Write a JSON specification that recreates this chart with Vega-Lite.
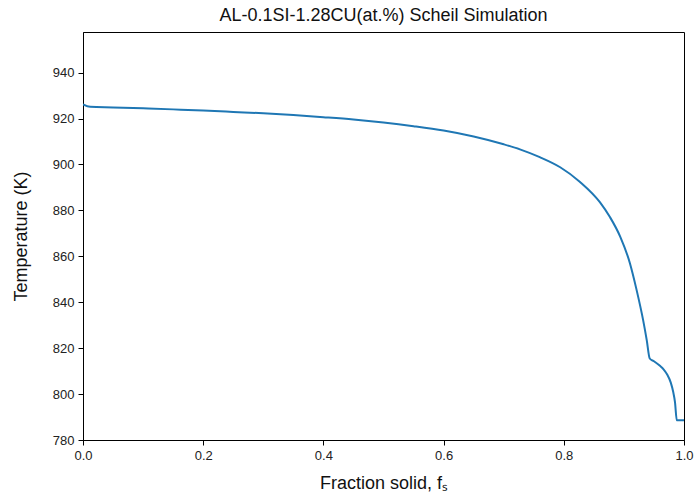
{
  "$schema": "https://vega.github.io/schema/vega-lite/v6.json",
  "autosize": "none",
  "padding": {"left": 83, "top": 32, "right": 11, "bottom": 55},
  "width": 601,
  "height": 408,
  "background": "white",
  "title": {"text": "AL-0.1SI-1.28CU(at.%) Scheil Simulation", "font": "Liberation Sans", "fontSize": 18, "fontWeight": "normal", "color": "#111", "offset": 7},
  "config": {"view": {"stroke": "black", "strokeWidth": 1}, "axis": {"grid": false, "domainColor": "black", "tickColor": "black", "labelFont": "Liberation Sans", "labelFontSize": 13, "labelColor": "#222", "titleFont": "Liberation Sans", "titleFontSize": 18, "titleFontWeight": "normal", "titleColor": "#111", "tickSize": 5, "labelFlush": false}},
  "data": {"values": [
    {"fs": 0.0, "T": 926.2},
    {"fs": 0.012, "T": 925.1},
    {"fs": 0.05, "T": 924.85},
    {"fs": 0.1, "T": 924.45},
    {"fs": 0.15, "T": 924.0},
    {"fs": 0.2, "T": 923.5},
    {"fs": 0.25, "T": 922.9},
    {"fs": 0.3, "T": 922.3},
    {"fs": 0.35, "T": 921.5},
    {"fs": 0.4, "T": 920.6},
    {"fs": 0.45, "T": 919.6},
    {"fs": 0.5, "T": 918.3},
    {"fs": 0.55, "T": 916.7},
    {"fs": 0.6, "T": 914.8},
    {"fs": 0.65, "T": 912.2},
    {"fs": 0.7, "T": 908.8},
    {"fs": 0.727, "T": 906.6},
    {"fs": 0.76, "T": 903.2},
    {"fs": 0.794, "T": 898.8},
    {"fs": 0.827, "T": 892.4},
    {"fs": 0.86, "T": 883.6},
    {"fs": 0.877, "T": 877.0},
    {"fs": 0.894, "T": 868.5},
    {"fs": 0.91, "T": 857.0},
    {"fs": 0.921, "T": 845.5},
    {"fs": 0.932, "T": 832.2},
    {"fs": 0.938, "T": 823.5},
    {"fs": 0.943, "T": 815.5},
    {"fs": 0.95, "T": 814.3},
    {"fs": 0.96, "T": 812.3},
    {"fs": 0.966, "T": 810.8},
    {"fs": 0.972, "T": 808.5},
    {"fs": 0.978, "T": 805.0},
    {"fs": 0.982, "T": 801.0},
    {"fs": 0.985, "T": 796.5},
    {"fs": 0.988, "T": 788.6},
    {"fs": 1.0, "T": 788.6}
  ]},
  "mark": {"type": "line", "color": "#1f77b4", "strokeWidth": 2, "clip": true, "interpolate": "monotone"},
  "encoding": {
    "x": {"field": "fs", "type": "quantitative", "scale": {"domain": [0, 1], "nice": false}, "axis": {"values": [0, 0.2, 0.4, 0.6, 0.8, 1.0], "format": ".1f", "title": "Fraction solid, fₛ", "titlePadding": 12, "labelPadding": 4}},
    "y": {"field": "T", "type": "quantitative", "scale": {"domain": [780, 957.7], "nice": false, "zero": false}, "axis": {"values": [780, 800, 820, 840, 860, 880, 900, 920, 940], "title": "Temperature (K)", "titlePadding": 22, "labelPadding": 4}}
  }
}
